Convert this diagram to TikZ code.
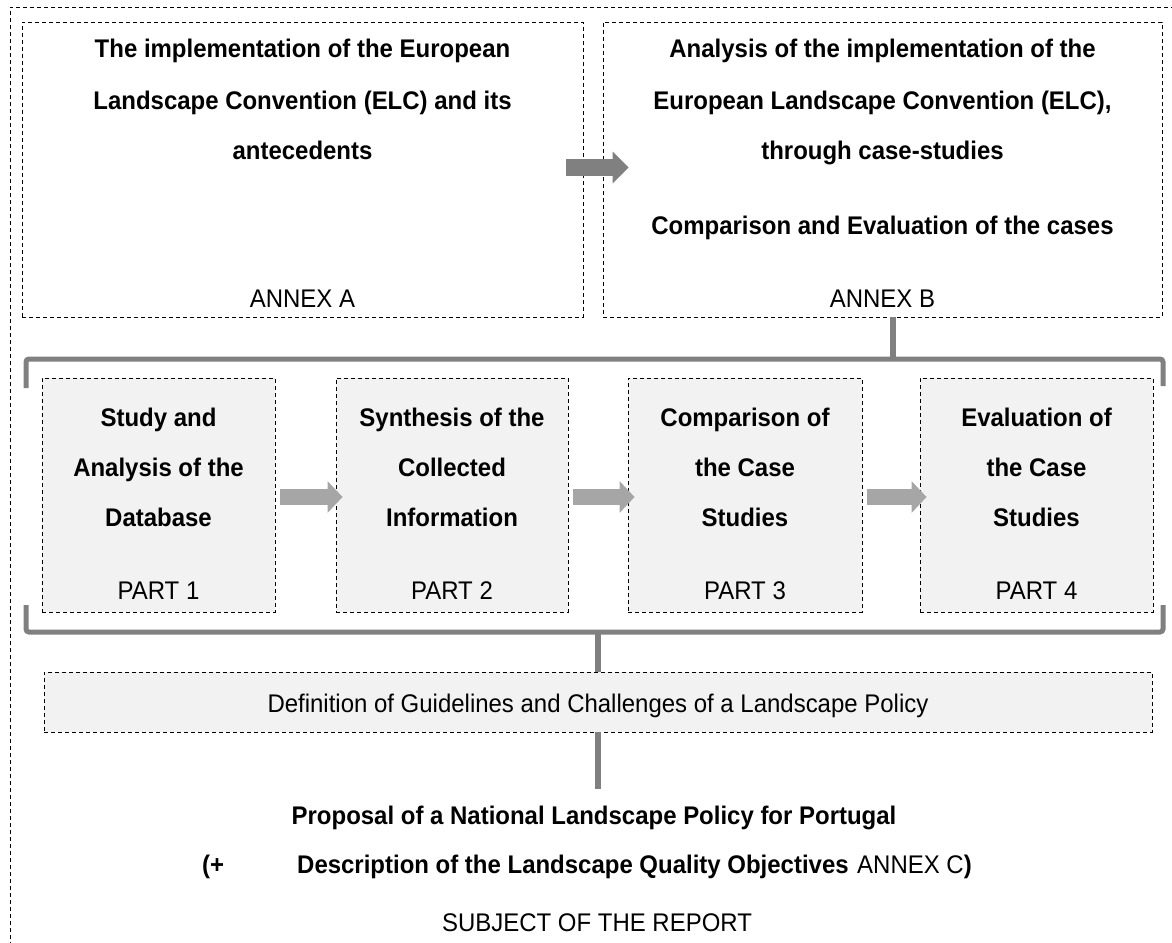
\documentclass[tikz,border=0pt]{standalone}
\usepackage{fontspec}
\setmainfont[FakeStretch=0.94]{Liberation Sans}
\usetikzlibrary{arrows.meta}
\definecolor{dgray}{HTML}{808080}
\definecolor{lgray}{HTML}{A6A6A6}
\definecolor{boxfill}{HTML}{F2F2F2}
\tikzset{
  dbox/.style={draw=black, line width=0.9pt, dash pattern=on 4pt off 3pt, inner sep=0pt},
  partbox/.style={dbox, fill=boxfill},
  txt/.style={anchor=base, inner sep=0pt, font=\fontsize{25.5}{28}\selectfont},
  btxt/.style={anchor=base, inner sep=0pt, font=\fontsize{25.5}{28}\selectfont\bfseries},
  conn/.style={draw=dgray, line width=5.5pt},
  brack/.style={draw=dgray, line width=5pt, rounded corners=3pt},
  bigarrow/.style={draw=dgray, line width=17pt, -{Triangle[width=31pt,length=16pt]}},
  partarrow/.style={draw=lgray, line width=16pt, -{Triangle[width=31pt,length=15pt]}},
}
\begin{document}
\begin{tikzpicture}[x=1pt,y=-1pt]
\useasboundingbox (0,0) rectangle (1172,942);
% outer frame
\draw[dbox] (10,960) -- (10,7) -- (1185,7);
% top boxes
\node[dbox, minimum width=561pt, minimum height=295pt] (boxA) at (302.5,169.5) {};
\node[dbox, minimum width=559pt, minimum height=295pt] (boxB) at (882.5,169.5) {};
\node[btxt] (a1) at (302.5,58) {The implementation of the European};
\node[btxt] (a2) at (302.5,109) {Landscape Convention (ELC) and its};
\node[btxt] (a3) at (302.5,159) {antecedents};
\node[txt]  (a4) at (302.5,307) {ANNEX A};
\node[btxt] (b1) at (882.5,58) {Analysis of the implementation of the};
\node[btxt] (b2) at (882.5,109) {European Landscape Convention (ELC),};
\node[btxt] (b3) at (882.5,159) {through case-studies};
\node[btxt] (b4) at (882.5,234) {Comparison and Evaluation of the cases};
\node[txt]  (b5) at (882.5,307) {ANNEX B};
\draw[bigarrow] ([xshift=-17pt,yshift=2pt]boxA.east) -- ([xshift=26pt,yshift=2pt]boxB.west);
% bracket
\draw[brack] (26,388) |- (1163,359) -- (1163,386);
\draw[brack] (26,605) |- (1163,632) -- (1163,605);
\coordinate (brt) at (893,359);
\coordinate (brb) at (598,632);
\draw[conn] ([xshift=10.5pt]boxB.south) -- (brt);
% parts
\node[partbox, minimum width=233pt, minimum height=234pt] (p1) at (158.5,495) {};
\node[partbox, minimum width=232pt, minimum height=234pt] (p2) at (452,495) {};
\node[partbox, minimum width=234pt, minimum height=234pt] (p3) at (745,495) {};
\node[partbox, minimum width=233pt, minimum height=234pt] (p4) at (1036.5,495) {};
\node[btxt] (p1a) at (158.5,426) {Study and};
\node[btxt] (p1b) at (158.5,476) {Analysis of the};
\node[btxt] (p1c) at (158.5,526) {Database};
\node[txt]  (p1d) at (158.5,599) {PART 1};
\node[btxt] (p2a) at (452,426) {Synthesis of the};
\node[btxt] (p2b) at (452,476) {Collected};
\node[btxt] (p2c) at (452,526) {Information};
\node[txt]  (p2d) at (452,599) {PART 2};
\node[btxt] (p3a) at (745,426) {Comparison of};
\node[btxt] (p3b) at (745,476) {the Case};
\node[btxt] (p3c) at (745,526) {Studies};
\node[txt]  (p3d) at (745,599) {PART 3};
\node[btxt] (p4a) at (1036.5,426) {Evaluation of};
\node[btxt] (p4b) at (1036.5,476) {the Case};
\node[btxt] (p4c) at (1036.5,526) {Studies};
\node[txt]  (p4d) at (1036.5,599) {PART 4};
\draw[partarrow] ([xshift=5pt,yshift=-2pt]p1.east) -- ([xshift=7pt,yshift=-2pt]p2.west);
\draw[partarrow] ([xshift=5pt,yshift=-2pt]p2.east) -- ([xshift=7pt,yshift=-2pt]p3.west);
\draw[partarrow] ([xshift=5pt,yshift=-2pt]p3.east) -- ([xshift=7pt,yshift=-2pt]p4.west);
% definition
\node[partbox, minimum width=1108pt, minimum height=60pt] (defbox) at (598,702) {};
\node[txt] (deft) at (598,712) {Definition of Guidelines and Challenges of a Landscape Policy};
\draw[conn] (brb) -- (defbox.north);
\coordinate (propTop) at (598,789);
\draw[conn] (defbox.south) -- (propTop);
% proposal
\node[btxt] (prop) at (594,824) {Proposal of a National Landscape Policy for Portugal};
\node[btxt, anchor=base west] (plus) at (202,873) {(+};
\node[btxt, anchor=base west] (desc) at (297,873) {Description of the Landscape Quality Objectives};
\node[txt, anchor=base west] (annc) at (857,873) {ANNEX C\textbf{)}};
\node[txt] (subj) at (597,931) {SUBJECT OF THE REPORT};
\end{tikzpicture}
\end{document}
